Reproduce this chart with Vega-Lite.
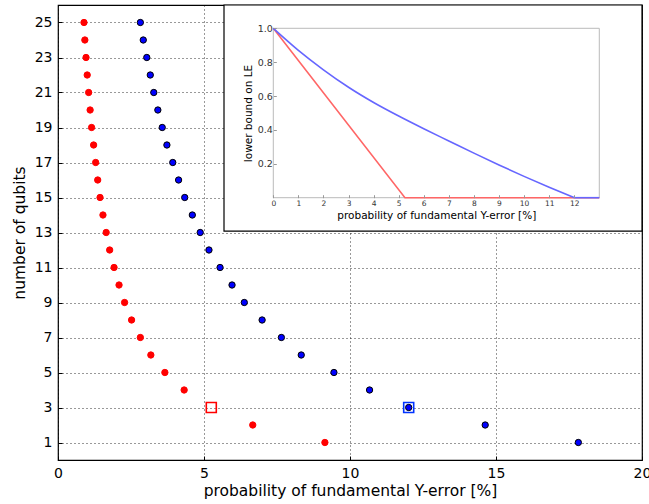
{
  "$schema": "https://vega.github.io/schema/vega-lite/v6.json",
  "autosize": {"type": "none"},
  "width": 584,
  "height": 455,
  "padding": {"left": 58, "top": 5, "right": 7, "bottom": 44},
  "background": "white",
  "config": {
    "view": {"stroke": "black", "strokeWidth": 1.2},
    "font": "DejaVu Sans",
    "axis": {"labelFont": "DejaVu Sans", "titleFont": "DejaVu Sans", "titleFontWeight": "normal", "labelColor": "black", "titleColor": "black", "tickColor": "black"}
  },
  "datasets": {
    "points": [
      {"series": "red", "p": 9.14, "n": 1},
      {"series": "red", "p": 6.67, "n": 2},
      {"series": "red", "p": 4.32, "n": 4},
      {"series": "red", "p": 3.66, "n": 5},
      {"series": "red", "p": 3.18, "n": 6},
      {"series": "red", "p": 2.82, "n": 7},
      {"series": "red", "p": 2.52, "n": 8},
      {"series": "red", "p": 2.28, "n": 9},
      {"series": "red", "p": 2.09, "n": 10},
      {"series": "red", "p": 1.92, "n": 11},
      {"series": "red", "p": 1.77, "n": 12},
      {"series": "red", "p": 1.65, "n": 13},
      {"series": "red", "p": 1.54, "n": 14},
      {"series": "red", "p": 1.44, "n": 15},
      {"series": "red", "p": 1.36, "n": 16},
      {"series": "red", "p": 1.29, "n": 17},
      {"series": "red", "p": 1.22, "n": 18},
      {"series": "red", "p": 1.15, "n": 19},
      {"series": "red", "p": 1.10, "n": 20},
      {"series": "red", "p": 1.05, "n": 21},
      {"series": "red", "p": 1.00, "n": 22},
      {"series": "red", "p": 0.96, "n": 23},
      {"series": "red", "p": 0.92, "n": 24},
      {"series": "red", "p": 0.89, "n": 25},
      {"series": "blue", "p": 17.82, "n": 1},
      {"series": "blue", "p": 14.63, "n": 2},
      {"series": "blue", "p": 12.01, "n": 3},
      {"series": "blue", "p": 10.67, "n": 4},
      {"series": "blue", "p": 9.45, "n": 5},
      {"series": "blue", "p": 8.33, "n": 6},
      {"series": "blue", "p": 7.65, "n": 7},
      {"series": "blue", "p": 6.99, "n": 8},
      {"series": "blue", "p": 6.38, "n": 9},
      {"series": "blue", "p": 5.96, "n": 10},
      {"series": "blue", "p": 5.55, "n": 11},
      {"series": "blue", "p": 5.17, "n": 12},
      {"series": "blue", "p": 4.87, "n": 13},
      {"series": "blue", "p": 4.60, "n": 14},
      {"series": "blue", "p": 4.34, "n": 15},
      {"series": "blue", "p": 4.13, "n": 16},
      {"series": "blue", "p": 3.93, "n": 17},
      {"series": "blue", "p": 3.73, "n": 18},
      {"series": "blue", "p": 3.57, "n": 19},
      {"series": "blue", "p": 3.42, "n": 20},
      {"series": "blue", "p": 3.28, "n": 21},
      {"series": "blue", "p": 3.16, "n": 22},
      {"series": "blue", "p": 3.04, "n": 23},
      {"series": "blue", "p": 2.92, "n": 24},
      {"series": "blue", "p": 2.82, "n": 25}
    ],
    "squares": [
      {"series": "red", "p": 5.25, "n": 3},
      {"series": "blue", "p": 12.01, "n": 3}
    ],
    "redcurve": [
      {"p": 0, "le": 1},
      {"p": 5.25, "le": 0},
      {"p": 13, "le": 0}
    ],
    "bluecurve": [
      {"p": 0, "le": 1},
      {"p": 1, "le": 0.87},
      {"p": 2, "le": 0.755},
      {"p": 3, "le": 0.652},
      {"p": 4, "le": 0.562},
      {"p": 5, "le": 0.482},
      {"p": 6, "le": 0.407},
      {"p": 7, "le": 0.335},
      {"p": 8, "le": 0.263},
      {"p": 9, "le": 0.193},
      {"p": 10, "le": 0.126},
      {"p": 11, "le": 0.062},
      {"p": 12, "le": 0}
    ],
    "blueflat": [
      {"p": 12, "le": 0},
      {"p": 13, "le": 0}
    ]
  },
  "layer": [
    {
      "encoding": {
        "x": {"type": "quantitative", "scale": {"domain": [0, 20], "nice": false, "zero": false},
          "axis": {"title": "probability of fundamental Y-error [%]", "values": [0, 5, 10, 15, 20], "format": "d", "domain": false,
            "grid": true, "gridColor": "black", "gridDash": [1, 3], "gridOpacity": 0.8, "gridWidth": 1,
            "tickSize": -4, "labelPadding": 10, "labelFontSize": 14, "titleFontSize": 15.5, "titlePadding": 3, "labelFlush": false}},
        "y": {"type": "quantitative", "scale": {"domain": [0, 26], "nice": false, "zero": false},
          "axis": {"title": "number of qubits", "values": [1, 3, 5, 7, 9, 11, 13, 15, 17, 19, 21, 23, 25], "domain": false,
            "grid": true, "gridColor": "black", "gridDash": [1, 3], "gridOpacity": 0.8, "gridWidth": 1,
            "tickSize": -4, "labelPadding": 10, "labelFontSize": 14, "titleFontSize": 15.5, "titlePadding": 7}}
      },
      "layer": [
        {
          "data": {"name": "points"},
          "mark": {"type": "point", "shape": "circle", "filled": true, "opacity": 1, "size": 40},
          "encoding": {
            "x": {"field": "p"},
            "y": {"field": "n"},
            "fill": {"field": "series", "type": "nominal", "scale": {"domain": ["red", "blue"], "range": ["#ff0000", "#0000ff"]}, "legend": null},
            "stroke": {"field": "series", "type": "nominal", "scale": {"domain": ["red", "blue"], "range": ["#ff0000", "#000000"]}, "legend": null},
            "strokeWidth": {"value": 1}
          }
        },
        {
          "data": {"name": "squares"},
          "mark": {"type": "point", "shape": "square", "filled": false, "size": 100, "strokeWidth": 1.6, "opacity": 1},
          "encoding": {
            "x": {"field": "p"},
            "y": {"field": "n"},
            "color": {"field": "series", "type": "nominal", "scale": {"domain": ["red", "blue"], "range": ["#ff0000", "#0033ff"]}, "legend": null}
          }
        },
        {
          "data": {"values": [{}]},
          "mark": {"type": "rect", "fill": "white", "stroke": "black", "strokeWidth": 1.2},
          "encoding": {
            "x": {"datum": 5.685},
            "x2": {"datum": 20},
            "y": {"datum": 26},
            "y2": {"datum": 13.08}
          }
        }
      ]
    },
    {
      "encoding": {
        "x": {"type": "quantitative", "scale": {"domain": [0, 13], "nice": false, "zero": false, "range": [215.3, 541.3]},
          "axis": {"orient": "bottom", "offset": -262.3, "zindex": 5, "title": "probability of fundamental Y-error [%]", "values": [0, 1, 2, 3, 4, 5, 6, 7, 8, 9, 10, 11, 12],
            "domain": false, "grid": false, "tickSize": -3, "tickColor": "#999999", "labelPadding": 5, "labelFontSize": 7.5, "labelColor": "#333333",
            "titleFontSize": 10.5, "titlePadding": 3, "labelFlush": false}},
        "y": {"type": "quantitative", "scale": {"domain": [0, 1], "nice": false, "zero": false, "range": [192.7, 23.3]},
          "axis": {"orient": "left", "offset": -215.3, "zindex": 5, "title": "lower bound on LE", "values": [0.2, 0.4, 0.6, 0.8, 1.0], "format": ".1f",
            "domain": false, "grid": false, "tickSize": -3, "tickColor": "#999999", "labelPadding": 4, "labelFontSize": 9.5, "labelColor": "#333333",
            "titleFontSize": 10.5, "titlePadding": 4, "labelFlush": false}}
      },
      "layer": [
        {
          "data": {"values": [{}]},
          "mark": {"type": "rect", "fill": "white", "stroke": "#bbbbbb", "strokeWidth": 1},
          "encoding": {
            "x": {"datum": 0},
            "x2": {"datum": 13},
            "y": {"datum": 0},
            "y2": {"datum": 1}
          }
        },
        {
          "data": {"name": "redcurve"},
          "mark": {"type": "line", "strokeWidth": 1.6, "color": "#ff6666"},
          "encoding": {
            "x": {"field": "p"},
            "y": {"field": "le"}
          }
        },
        {
          "data": {"name": "bluecurve"},
          "mark": {"type": "line", "strokeWidth": 1.6, "color": "#6666ff", "interpolate": "monotone"},
          "encoding": {
            "x": {"field": "p"},
            "y": {"field": "le"}
          }
        },
        {
          "data": {"name": "blueflat"},
          "mark": {"type": "line", "strokeWidth": 1.6, "color": "#6666ff"},
          "encoding": {
            "x": {"field": "p"},
            "y": {"field": "le"}
          }
        }
      ]
    }
  ],
  "resolve": {"scale": {"x": "independent", "y": "independent"}, "axis": {"x": "independent", "y": "independent"}}
}
